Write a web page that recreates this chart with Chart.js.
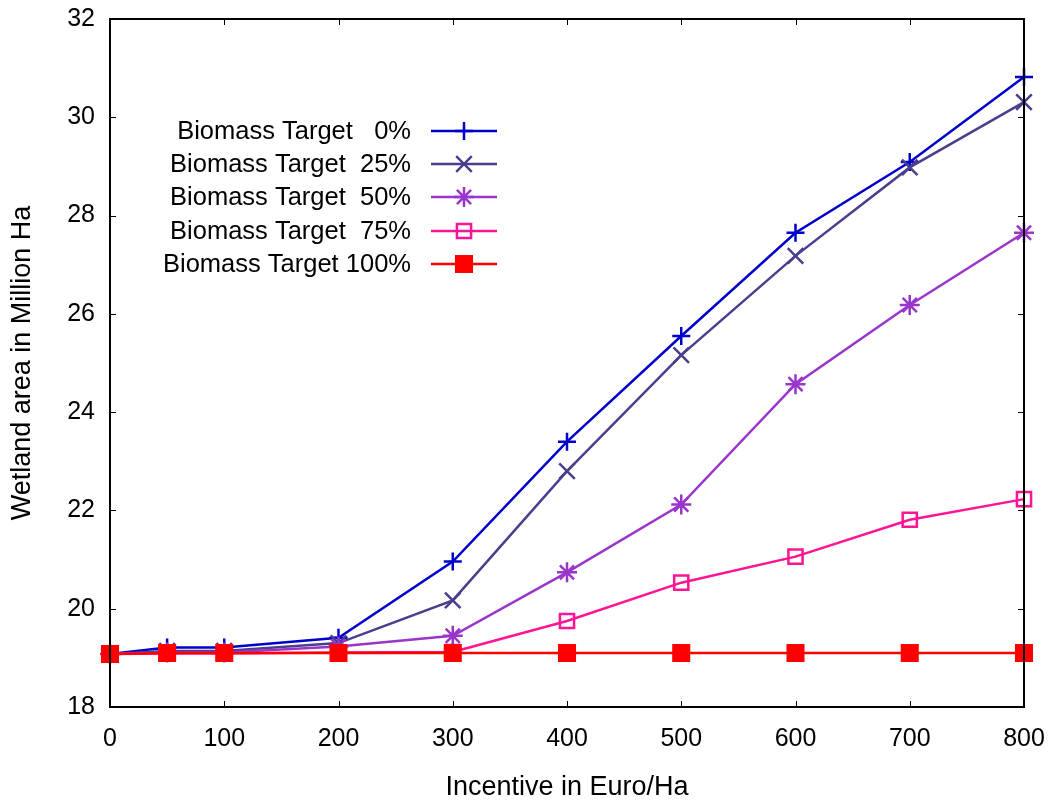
<!DOCTYPE html>
<html>
<head>
<meta charset="utf-8">
<script src="https://cdn.jsdelivr.net/npm/chart.js@4"></script>
<style>
  html, body { margin: 0; padding: 0; background: #fff; }
  #wrap { width: 1057px; height: 805px; }
</style>
</head>
<body>
<div id="wrap"><canvas id="chart" width="1057" height="805"></canvas></div>
<script>
// Incentive levels (Euro/Ha) on the x axis
const incentives = [0, 50, 100, 200, 300, 400, 500, 600, 700, 800];

// Wetland area (million ha) for each biomass target
const target0   = [19.08, 19.21, 19.21, 19.41, 20.96, 23.40, 25.55, 27.65, 29.09, 30.82];
const target25  = [19.08, 19.14, 19.14, 19.30, 20.17, 22.80, 25.16, 27.18, 28.98, 30.31];
const target50  = [19.08, 19.11, 19.11, 19.23, 19.45, 20.74, 22.12, 24.57, 26.18, 27.65];
const target75  = [19.08, 19.09, 19.09, 19.11, 19.12, 19.75, 20.53, 21.06, 21.81, 22.23];
const target100 = [19.08, 19.10, 19.10, 19.10, 19.10, 19.10, 19.10, 19.10, 19.10, 19.10];

const seriesLabels = [
  'Biomass Target   0%',
  'Biomass Target  25%',
  'Biomass Target  50%',
  'Biomass Target  75%',
  'Biomass Target 100%'
];

const xTicks = [0, 100, 200, 300, 400, 500, 600, 700, 800];
const yTicks = [18, 20, 22, 24, 26, 28, 30, 32];

const FONT = "'Liberation Sans', Arial, sans-serif";

const styles = [
  { color: '#0000cc', pointStyle: 'cross',    radius: 9,  fill: false },
  { color: '#4a3f8c', pointStyle: 'crossRot', radius: 11, fill: false },
  { color: '#9a35cc', pointStyle: 'star',     radius: 10, fill: false },
  { color: '#ff1493', pointStyle: 'rect',     radius: 10, fill: false },
  { color: '#ff0000', pointStyle: 'rect',     radius: 11, fill: true }
];

const seriesValues = [target0, target25, target50, target75, target100];

const datasets = seriesValues.map((vals, i) => ({
  label: seriesLabels[i],
  data: incentives.map((x, k) => ({ x: x, y: vals[k] })),
  borderColor: styles[i].color,
  backgroundColor: styles[i].fill ? styles[i].color : 'rgba(0,0,0,0)',
  borderWidth: 2.5,
  pointStyle: styles[i].pointStyle,
  pointRadius: styles[i].radius,
  pointHoverRadius: styles[i].radius,
  pointBorderWidth: 2.5,
  pointBorderColor: styles[i].color,
  pointBackgroundColor: styles[i].fill ? styles[i].color : 'rgba(0,0,0,0)',
  tension: 0,
  order: seriesValues.length - i
}));

// Frame around the plot area with inward tick marks on all four sides
const framePlugin = {
  id: 'frame',
  afterDatasetsDraw(chart) {
    const { ctx, chartArea: a, scales: { x, y } } = chart;
    ctx.save();
    ctx.strokeStyle = '#000';
    ctx.lineWidth = 1;
    const len = 6;
    ctx.beginPath();
    xTicks.forEach(v => {
      const px = Math.round(x.getPixelForValue(v)) + 0.5;
      ctx.moveTo(px, a.bottom); ctx.lineTo(px, a.bottom - len);
      ctx.moveTo(px, a.top);    ctx.lineTo(px, a.top + len);
    });
    yTicks.forEach(v => {
      const py = Math.round(y.getPixelForValue(v)) + 0.5;
      ctx.moveTo(a.left, py);  ctx.lineTo(a.left + len, py);
      ctx.moveTo(a.right, py); ctx.lineTo(a.right - len, py);
    });
    ctx.stroke();
    ctx.lineWidth = 2;
    ctx.strokeRect(a.left, a.top, a.right - a.left, a.bottom - a.top);
    ctx.restore();
  }
};

// Legend: right-aligned labels followed by a line sample with its marker
const keyPlugin = {
  id: 'key',
  afterDatasetsDraw(chart) {
    const ctx = chart.ctx;
    const textRight = 411;
    const lineL = 431, lineR = 497, mid = 464;
    const rowY = [131, 164, 197, 231, 264];
    ctx.save();
    ctx.font = '25.5px ' + FONT;
    ctx.textAlign = 'right';
    ctx.textBaseline = 'middle';
    chart.data.datasets.forEach((ds, i) => {
      const yy = rowY[i];
      ctx.fillStyle = '#000';
      ctx.fillText(ds.label, textRight, yy + 1);
      ctx.strokeStyle = ds.borderColor;
      ctx.lineWidth = 2.5;
      ctx.beginPath();
      ctx.moveTo(lineL, yy); ctx.lineTo(lineR, yy);
      ctx.stroke();
      ctx.fillStyle = ds.pointBackgroundColor;
      Chart.helpers.drawPoint(ctx, {
        pointStyle: ds.pointStyle,
        radius: ds.pointRadius,
        rotation: 0,
        borderWidth: 2.5
      }, mid, yy);
    });
    ctx.restore();
  }
};

new Chart(document.getElementById('chart'), {
  type: 'line',
  data: { datasets: datasets },
  options: {
    responsive: false,
    animation: false,
    clip: false,
    layout: { autoPadding: false, padding: { top: 19, right: 33, bottom: 0, left: 0 } },
    plugins: {
      legend: { display: false },
      tooltip: { enabled: false }
    },
    scales: {
      x: {
        type: 'linear',
        min: 0,
        max: 800,
        afterBuildTicks(scale) { scale.ticks = xTicks.map(v => ({ value: v })); },
        afterFit(scale) {
          scale.height = 98;
          scale.paddingLeft = 0;
          scale.paddingRight = 0;
        },
        grid: { display: false, drawTicks: false },
        border: { display: false },
        ticks: {
          color: '#000',
          font: { family: FONT, size: 25 },
          padding: 17,
          maxRotation: 0
        },
        title: {
          display: true,
          text: 'Incentive in Euro/Ha',
          color: '#000',
          font: { family: FONT, size: 27 },
          padding: { top: 4, bottom: 1 }
        }
      },
      y: {
        type: 'linear',
        min: 18,
        max: 32,
        afterBuildTicks(scale) { scale.ticks = yTicks.map(v => ({ value: v })); },
        afterFit(scale) {
          scale.width = 110;
          scale.paddingTop = 0;
          scale.paddingBottom = 0;
        },
        grid: { display: false, drawTicks: false },
        border: { display: false },
        ticks: {
          color: '#000',
          font: { family: FONT, size: 25 },
          padding: 15
        },
        title: {
          display: true,
          text: 'Wetland area in Million Ha',
          color: '#000',
          font: { family: FONT, size: 27 },
          padding: { top: 6, bottom: 0 }
        }
      }
    }
  },
  plugins: [framePlugin, keyPlugin]
});
</script>
</body>
</html>
